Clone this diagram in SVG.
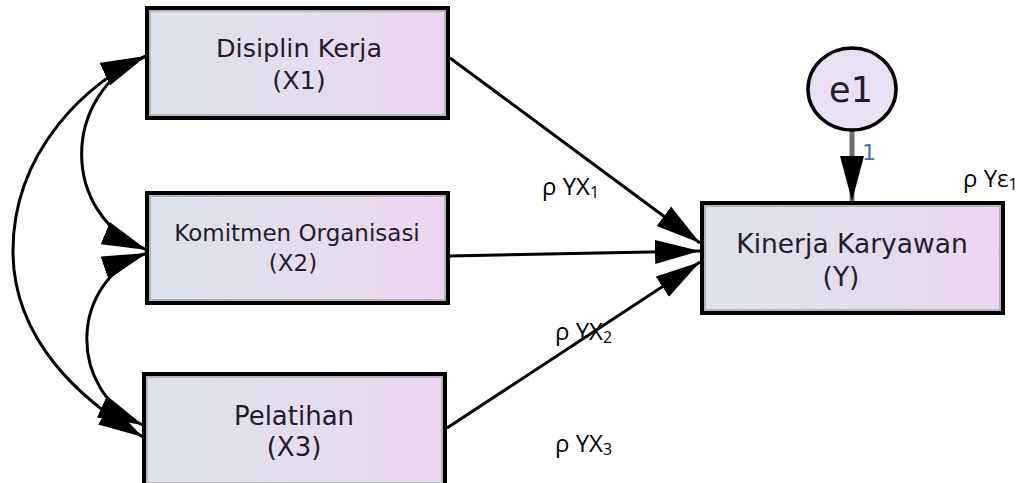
<svg xmlns="http://www.w3.org/2000/svg" width="1024" height="483" viewBox="0 0 1024 483">
  <defs>
    <linearGradient id="boxFill" x1="0" y1="0" x2="1" y2="0">
      <stop offset="0" stop-color="#dde3ea"/>
      <stop offset="0.5" stop-color="#e4ddee"/>
      <stop offset="1" stop-color="#ecd5f0"/>
    </linearGradient>
    <marker id="head" markerUnits="userSpaceOnUse" markerWidth="46" markerHeight="26" viewBox="0 0 46 26" refX="45" refY="13" orient="auto-start-reverse">
      <path d="M0,1 L45,13 L0,25 Z" fill="#000"/>
    </marker>
    <style>
      .box { fill: url(#boxFill); stroke: #000; stroke-width: 4; }
      .inner { fill: none; stroke: #b4b4bc; stroke-width: 2; }
      .node-text { font-family: "DejaVu Sans", sans-serif; fill: #241c2a; text-anchor: middle; }
      .path { fill: none; stroke: #000; stroke-width: 3; }
      .label { font-family: "Open Sans", "Liberation Sans", sans-serif; font-size: 24px; fill: #000; }
      .sub { font-size: 16px; }
    </style>
  </defs>

  <rect width="1024" height="483" fill="#fff"/>

  <!-- connectors -->
  <g id="connectors">
    <!-- covariances between exogenous variables -->
    <path class="path" d="M146,56 C90,80 12,150 13,253 C14,340 80,400 143,437" marker-start="url(#head)" marker-end="url(#head)"/>
    <path class="path" d="M146,56 C60,95 60,215 147,250" marker-start="url(#head)" marker-end="url(#head)"/>
    <path class="path" d="M147,253 C70,280 65,390 143,425" marker-start="url(#head)" marker-end="url(#head)"/>
    <!-- regression paths -->
    <path class="path" d="M450,58 L700,243" marker-end="url(#head)"/>
    <path class="path" d="M450,256 L700,251" stroke="#1a1a1a" stroke-width="4" marker-end="url(#head)"/>
    <path class="path" d="M447,428 L700,262" marker-end="url(#head)"/>
    <!-- error term -->
    <path d="M852,130 L852,201" fill="none" stroke="#6e6e6e" stroke-width="5" marker-end="url(#head)"/>
  </g>

  <g id="node-x1">
    <rect class="box" x="147" y="8" width="301" height="110"/>
    <rect class="inner" x="150" y="11" width="295" height="104"/>
    <text class="node-text" x="299" y="57" font-size="25.5">Disiplin Kerja</text>
    <text class="node-text" x="299" y="89" font-size="25.5">(X1)</text>
  </g>

  <g id="node-x2">
    <rect class="box" x="147" y="193" width="301" height="110"/>
    <rect class="inner" x="150" y="196" width="295" height="104"/>
    <text class="node-text" x="297" y="241" font-size="23">Komitmen Organisasi</text>
    <text class="node-text" x="293" y="271" font-size="23">(X2)</text>
  </g>

  <g id="node-x3">
    <rect class="box" x="144" y="374" width="301" height="112"/>
    <rect class="inner" x="147" y="377" width="295" height="106"/>
    <text class="node-text" x="294" y="425" font-size="26">Pelatihan</text>
    <text class="node-text" x="294" y="456" font-size="26">(X3)</text>
  </g>

  <g id="node-y">
    <rect class="box" x="702" y="203" width="301" height="110"/>
    <rect class="inner" x="705" y="206" width="295" height="104"/>
    <text class="node-text" x="852" y="253" font-size="26.5">Kinerja Karyawan</text>
    <text class="node-text" x="841" y="286" font-size="26.5">(Y)</text>
  </g>

  <g id="node-e1">
    <ellipse cx="852" cy="89" rx="44" ry="41" fill="#e9e1f3" stroke="#000" stroke-width="3.5"/>
    <text class="node-text" x="851" y="102" font-size="35">e1</text>
    <text x="862" y="160" font-family="DejaVu Sans, sans-serif" font-size="22" fill="#4a6fa8">1</text>
  </g>

  <g id="labels">
    <text class="label" x="542" y="195">ρ YX<tspan class="sub" dy="3">1</tspan></text>
    <text class="label" x="555" y="340">ρ YX<tspan class="sub" dy="3">2</tspan></text>
    <text class="label" x="555" y="452">ρ YX<tspan class="sub" dy="3">3</tspan></text>
    <text class="label" x="963" y="187">ρ Yε<tspan class="sub" dy="3">1</tspan></text>
  </g>
</svg>
